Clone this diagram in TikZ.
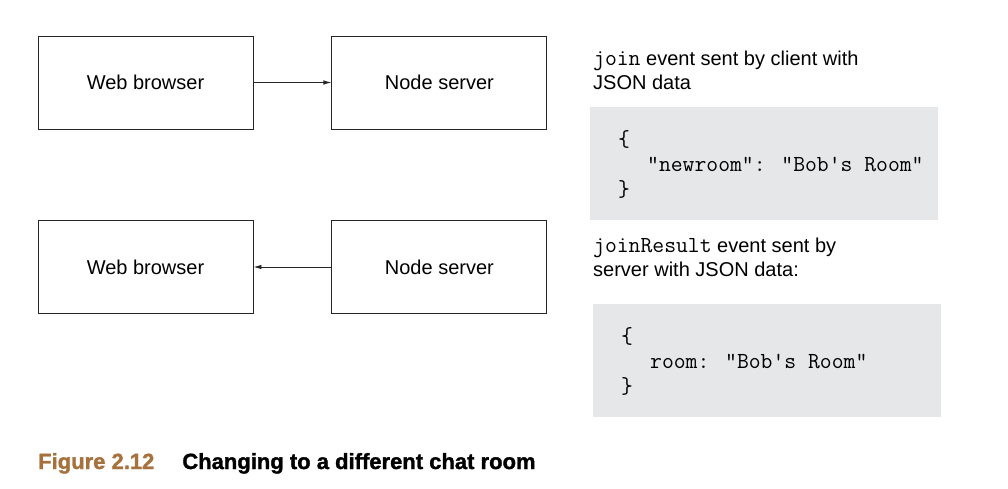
\documentclass[tikz,border=0pt]{standalone}
\usepackage{fontspec}
\setmainfont{Liberation Sans}
\newfontfamily\capfont[FakeBold=1.4]{Liberation Sans Bold}
\usepackage{tikz}
\usetikzlibrary{positioning, arrows.meta}
\definecolor{codegrey}{RGB}{230, 231, 232}
\definecolor{figbrown}{RGB}{166, 113, 60}
\newcommand{\codefont}{\ttfamily\fontsize{23}{25}\selectfont}

\begin{document}
\begin{tikzpicture}[
  x=1pt, y=-1pt,
  font=\fontsize{20}{24}\selectfont,
  node distance=78pt,
  box/.style={
    draw=black!85, line width=0.9pt, inner sep=0pt,
    minimum width=215pt, minimum height=93pt
  },
  codebox/.style={fill=codegrey, anchor=north west, inner sep=0pt,
    minimum width=348pt, minimum height=113pt},
  codetext/.style={anchor=north west, inner sep=0pt, align=left,
    font=\codefont},
  note/.style={anchor=north west, inner sep=0pt, align=left},
  link/.style={line width=0.9pt, draw=black!85, -{Latex[length=8pt, width=4.5pt]}}
]
\useasboundingbox (0,0) rectangle (1008,488);

% browser -> server
\node[box] (browserA) at (145.5,82.5) {Web browser};
\node[box, right=of browserA] (serverA) {Node server};

% server -> browser
\node[box] (browserB) at (145.5,267) {Web browser};
\node[box, right=of browserB] (serverB) {Node server};

\draw[link] (browserA) -- (serverA);
\draw[link] (serverB) -- (browserB);

% join event
\node[note] (joinnote) at (593,51) {{\codefont join} event sent by client with\\JSON data};
\node[codebox] (joinbox) at (590,107) {};
\node[codetext] (joincode) at ([xshift=28pt, yshift=-23pt]joinbox.north west)
  {\{\\\hspace*{29pt}"newroom": "Bob's Room"\\\}};

% joinResult event
\node[note] (resultnote) at (593,238) {{\codefont joinResult} event sent by\\server with JSON data:};
\node[codebox] (resultbox) at (593,304) {};
\node[codetext] (resultcode) at ([xshift=28pt, yshift=-23pt]resultbox.north west)
  {\{\\\hspace*{29pt}room: "Bob's Room"\\\}};

% caption
\node[anchor=base west, inner sep=0pt, font=\fontsize{22}{24}\selectfont\capfont] (caption) at (38,469)
  {{\color{figbrown}Figure 2.12}\hspace{28pt}Changing to a different chat room};
\end{tikzpicture}
\end{document}
